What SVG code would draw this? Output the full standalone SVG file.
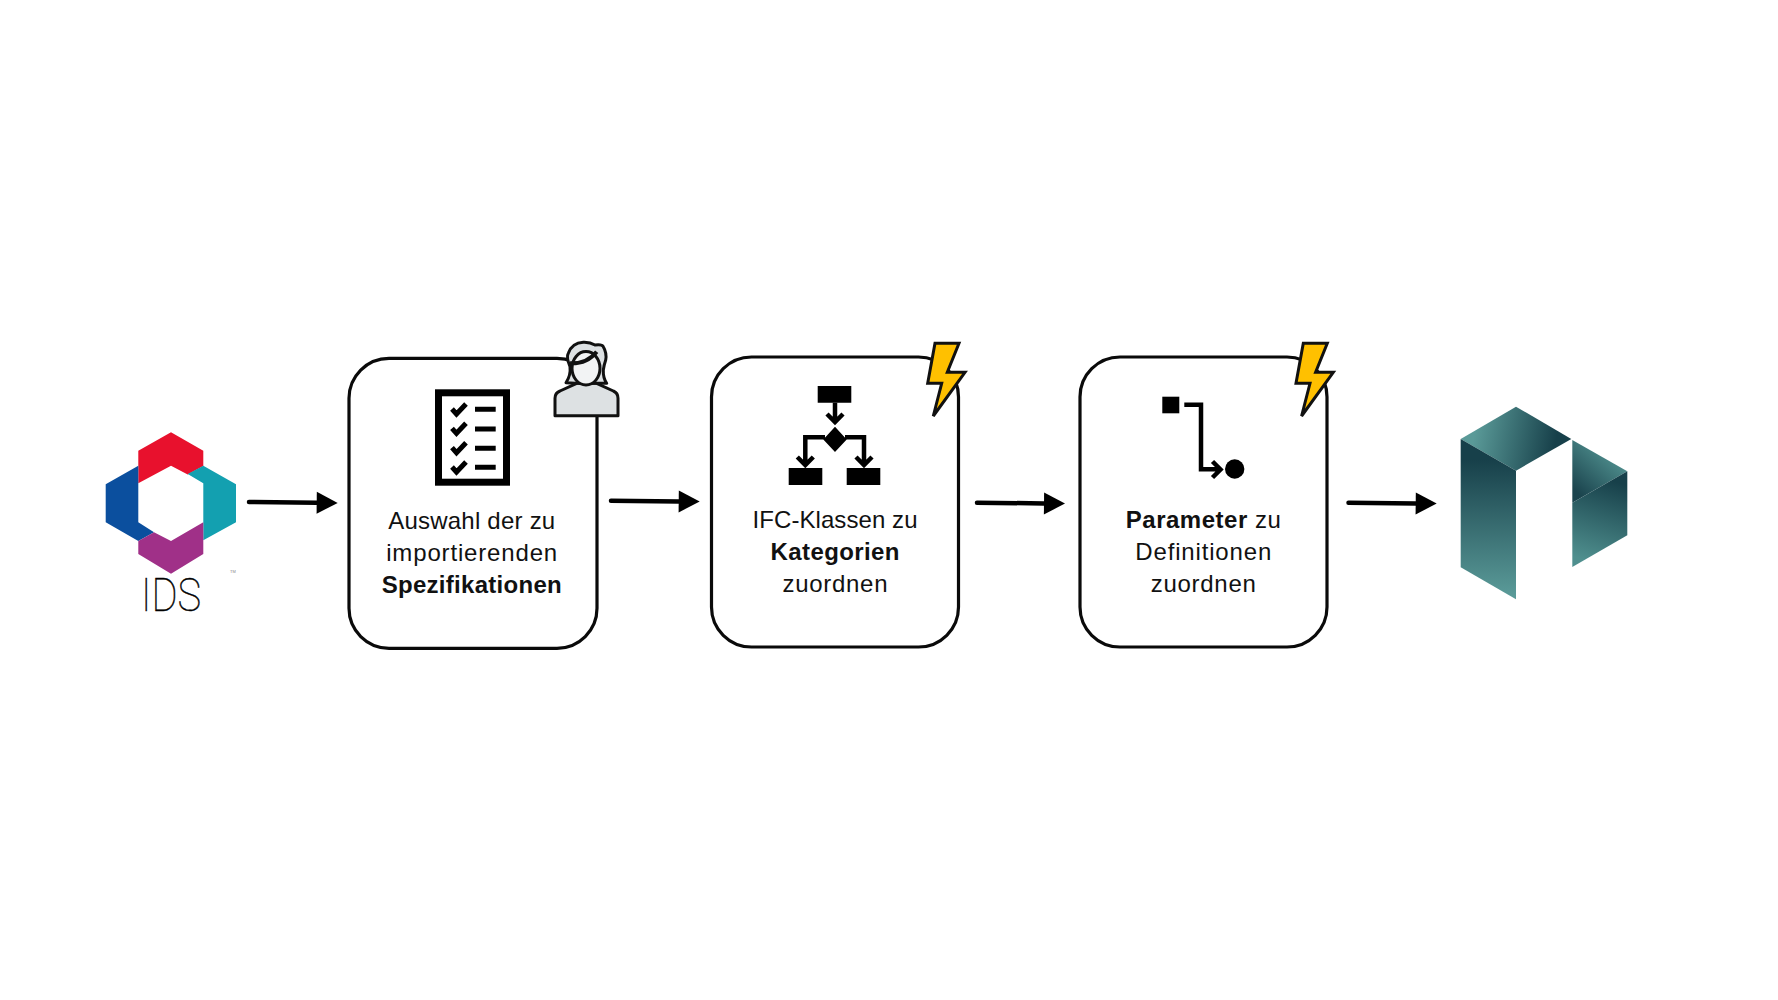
<svg xmlns="http://www.w3.org/2000/svg" width="1778" height="1000" viewBox="0 0 1778 1000">
<style>
.box{fill:#fff;stroke:#0a0a0a;stroke-width:3.2}
.t{font-family:"Liberation Sans",Arial,sans-serif;font-size:24px;fill:#111;text-anchor:middle}
.b{font-weight:700}
.ln{fill:none;stroke:#000;stroke-width:4.500}
.con{fill:none;stroke:#000;stroke-width:4.500;stroke-linecap:round}
.bolt{fill:#ffc000;stroke:#111;stroke-width:3}
.p{fill:#dde1e3;stroke:#111;stroke-width:3;stroke-linejoin:round}
</style>
<defs>
<marker id="ah" markerUnits="userSpaceOnUse" markerWidth="21" markerHeight="22" refX="0" refY="11" orient="auto" overflow="visible"><path d="M0 0L21 11L0 22Z" fill="#000"/></marker>
<linearGradient id="gTop" gradientUnits="userSpaceOnUse" x1="1475" y1="430" x2="1555" y2="445"><stop offset="0" stop-color="#5a9a98"/><stop offset="1" stop-color="#17404a"/></linearGradient>
<linearGradient id="gLeft" gradientUnits="userSpaceOnUse" x1="1488" y1="460" x2="1488" y2="595"><stop offset="0" stop-color="#17404a"/><stop offset="1" stop-color="#5a9a98"/></linearGradient>
<linearGradient id="gRU" gradientUnits="userSpaceOnUse" x1="1580" y1="495" x2="1615" y2="455"><stop offset="0" stop-color="#1b444e"/><stop offset="1" stop-color="#4f8f8e"/></linearGradient>
<linearGradient id="gRL" gradientUnits="userSpaceOnUse" x1="1610" y1="480" x2="1585" y2="560"><stop offset="0" stop-color="#17404a"/><stop offset="1" stop-color="#4f8f8e"/></linearGradient>
<polygon id="bolt" class="bolt" points="935,343.300 959,343.300 947.300,372.300 965,372.300 933.300,416 941.700,383.300 927.700,383.300"/>
</defs>
<rect width="1778" height="1000" fill="#fff"/>
<g id="connectors">
<path class="con" marker-end="url(#ah)" d="M249 502L316.700 502.700"/>
<path class="con" marker-end="url(#ah)" d="M611 500.700L678.700 501.400"/>
<path class="con" marker-end="url(#ah)" d="M977 502.700L1044 503.400"/>
<path class="con" marker-end="url(#ah)" d="M1348.500 502.700L1415.700 503.400"/>
</g>
<g id="ids-logo">
<polygon fill="#e8112d" points="171,432.300 203.300,450.700 203.300,466 187.700,474.500 171,465.700 138.300,483.300 138.300,450.700"/>
<polygon fill="#13a0b0" points="187.700,474 203.300,465.700 236,484.300 236,522.300 203.300,540.300 203.300,483.300"/>
<polygon fill="#0b4f9e" points="138.300,465.700 105.700,484.300 105.700,522.300 138.300,541 154,532.300 138.300,522.300"/>
<polygon fill="#a03088" points="203.300,522.300 203.300,554 171,573.700 138.300,554 138.300,541 154,532.300 171,541"/>
<text x="171" y="611" font-family="Roboto,sans-serif" font-weight="100" font-size="46" text-anchor="middle" textLength="60" lengthAdjust="spacingAndGlyphs" fill="#000" stroke="#000" stroke-width="0.400">IDS</text>
<text x="233" y="572.500" font-family="'Liberation Sans',sans-serif" font-size="4" text-anchor="middle" fill="#888">TM</text>
</g>
<g id="node-1">
<rect class="box" x="349" y="358.300" width="248" height="290" rx="40"/>
<rect x="438.500" y="392.800" width="68" height="89.400" fill="#fff" stroke="#000" stroke-width="7"/>
<path class="ln" style="stroke-width:5" d="M475 409.300H495.700M475 429H495.700M475 448.300H495.700M475 467.300H495.700"/>
<path class="ln" style="stroke-width:5" d="M452 409l4.500 5L466 404M452 428.300l4.500 5L466 423.300M452 447.700l4.500 5L466 442.700M452 467l4.500 5L466 462"/>
<text class="t" x="471.700" y="529" textLength="167">Auswahl der zu</text>
<text class="t" x="471.700" y="560.700" textLength="171">importierenden</text>
<text class="t b" x="471.700" y="593" textLength="180">Spezifikationen</text>
</g>
<g id="person">
<path class="p" d="M555 415.700V398.300Q555 393 560 391L576.700 383.300H596.700L613.300 391Q618 393 618 398.300V415.700Z"/>
<path class="p" d="M566 382.700Q571 375 570 366.700Q566 357 568.300 353.300Q572 343 583.300 342.300Q590 342 595 345Q602 344 603.300 346.700Q607 353 605.700 360Q604 365 603.300 370Q603 378 606.700 383.300L598.300 383.300L575 383.300Z"/>
<ellipse class="p" cx="586" cy="368.300" rx="14" ry="16.700" style="fill:#f2f3f4"/>
<path d="M570 363.300Q587 364 596.700 351.700" fill="none" stroke="#111" stroke-width="4"/>
</g>
<g id="node-2">
<rect class="box" x="711.500" y="357" width="247" height="290" rx="40"/>
<path d="M817.700 386h33.600v16.700h-33.600zM788.700 468h33.600v17h-33.600zM846.700 468h33.600v17h-33.600zM835 426.700l11.700 12.700-11.700 12.700-11.700-12.700z" fill="#000"/>
<path class="ln" d="M835 402.700V422M827 414l8 8 8-8M825 437.300H805.300V465M797.300 457l8 8 8-8M845 437.300H864V465M856 457l8 8 8-8"/>
<text class="t" x="835" y="528.300" textLength="165">IFC-Klassen zu</text>
<text class="t b" x="835" y="560" textLength="129">Kategorien</text>
<text class="t" x="835" y="591.700" textLength="105">zuordnen</text>
<use href="#bolt"/>
</g>
<g id="node-3">
<rect class="box" x="1080" y="357" width="247" height="290" rx="40"/>
<rect x="1162.300" y="396.700" width="17" height="16.600" fill="#000"/>
<circle cx="1234.700" cy="469" r="9.700" fill="#000"/>
<path class="ln" d="M1184.300 404.700H1201V469.300H1220M1212.500 461.500l8 8-8 8"/>
<text class="t" x="1203.300" y="528.300" textLength="155"><tspan class="b">Parameter</tspan> zu</text>
<text class="t" x="1203.300" y="560" textLength="136">Definitionen</text>
<text class="t" x="1203.300" y="591.700" textLength="105">zuordnen</text>
<use href="#bolt" x="368.300"/>
</g>
<g id="target-logo">
<polygon fill="url(#gTop)" points="1516,406.700 1460.700,439 1516,470.700 1571.300,439"/>
<polygon fill="url(#gLeft)" points="1460.700,439 1516,470.700 1516,599.300 1460.700,567.300"/>
<polygon fill="url(#gRU)" points="1572.300,440 1627.300,471.300 1572.300,502.700"/>
<polygon fill="url(#gRL)" points="1572.300,502.700 1627.300,471.300 1627.300,535.300 1572.300,567"/>
</g>
</svg>
